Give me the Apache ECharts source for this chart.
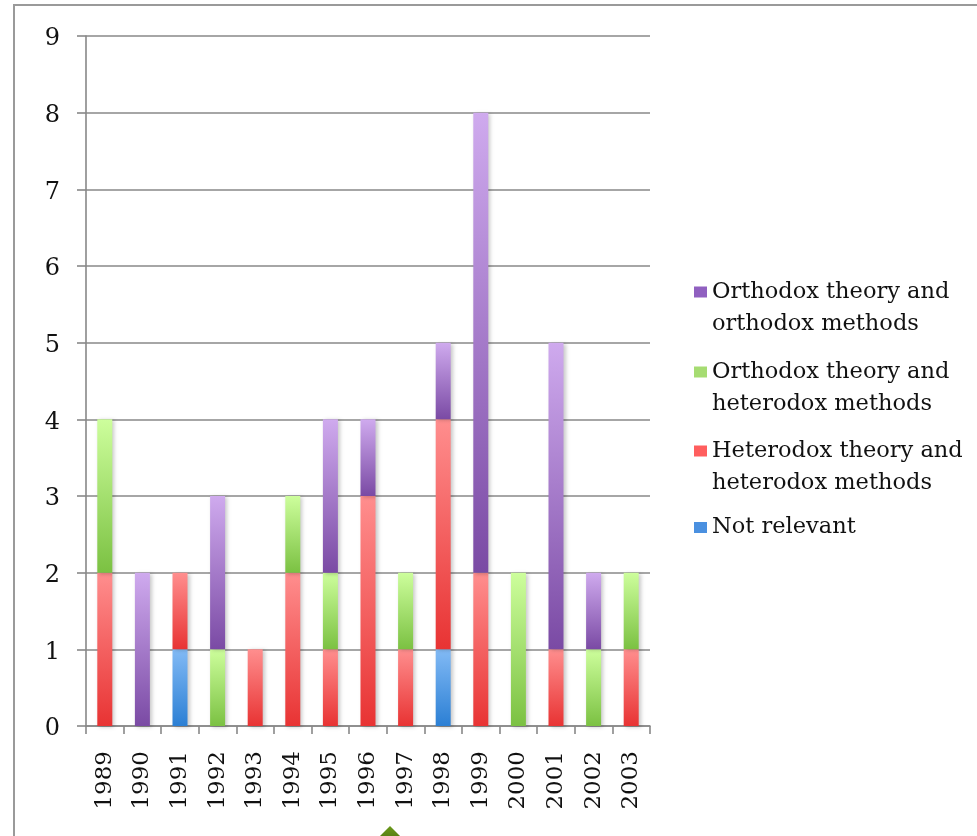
<!DOCTYPE html>
<html>
<head>
<meta charset="utf-8">
<script src="https://cdn.jsdelivr.net/npm/echarts@6/dist/echarts.min.js"></script>
<style>
  html, body { margin: 0; padding: 0; background: #fff; }
  #chart { width: 977px; height: 836px; }
</style>
</head>
<body>
<div id="chart"></div>
<script>
// ---- data ----
const years = ['1989','1990','1991','1992','1993','1994','1995','1996','1997','1998','1999','2000','2001','2002','2003'];
const notRelevant = [0,0,1,0,0,0,0,0,0,1,0,0,0,0,0];
const heterodoxHeterodox = [2,0,1,0,1,2,1,3,1,3,2,0,1,0,1];
const orthodoxHeterodox = [2,0,0,1,0,1,1,0,1,0,0,2,0,1,1];
const orthodoxOrthodox = [0,2,0,2,0,0,2,1,0,1,6,0,4,1,0];
const yTicks = [0,1,2,3,4,5,6,7,8,9];

const seriesNames = [
  'Not relevant',
  'Heterodox theory and\nheterodox methods',
  'Orthodox theory and\nheterodox methods',
  'Orthodox theory and\northodox methods'
];

const FONT = 'DejaVu Serif';

function grad(top, bottom) {
  return new echarts.graphic.LinearGradient(0, 0, 0, 1, [
    { offset: 0, color: top },
    { offset: 1, color: bottom }
  ]);
}

const styles = [
  { fill: grad('#82baf5', '#2b7fd4'), icon: '#4a90e0' },
  { fill: grad('#ff8e8e', '#e83333'), icon: '#ff5e5e' },
  { fill: grad('#cdfe9c', '#7bc142'), icon: '#a6dc72' },
  { fill: grad('#cfaaee', '#7a4aa4'), icon: '#9060c0' }
];

const values = [notRelevant, heterodoxHeterodox, orthodoxHeterodox, orthodoxOrthodox];

const series = values.map((arr, i) => ({
  name: seriesNames[i],
  type: 'bar',
  stack: 'total',
  barWidth: 15,
  data: arr,
  color: styles[i].icon,
  itemStyle: {
    color: styles[i].fill,
    shadowColor: 'rgba(0,0,0,0.22)',
    shadowBlur: 4,
    shadowOffsetX: 2,
    shadowOffsetY: 1
  },
  emphasis: { disabled: true }
}));

// legend: one component per item, listed top to bottom.
// Icon box is 13x43; the square sits at the top for two-line names
// (aligned with the first line) and in the middle for one-line names.
const ICON_TOP = 'path://M0,0h13v11h-13zM0,43';
const ICON_MID = 'path://M0,16h13v11h-13zM0,0M0,43';
const legendTops = [276, 356, 435, 506];
const legendOrder = [3, 2, 1, 0];
const legends = legendOrder.map((si, k) => ({
  orient: 'vertical',
  left: 694,
  top: legendTops[k],
  padding: 0,
  itemWidth: 13,
  itemHeight: 43,
  itemGap: 0,
  selectedMode: false,
  data: [{
    name: seriesNames[si],
    icon: si === 0 ? ICON_MID : ICON_TOP,
    itemStyle: { color: styles[si].icon }
  }],
  textStyle: { fontFamily: FONT, fontSize: 22.5, color: '#111', lineHeight: 32 }
}));

const chart = echarts.init(document.getElementById('chart'));
chart.setOption({
  animation: false,
  backgroundColor: '#fff',
  graphic: [
    {
      type: 'rect',
      shape: { x: 14, y: 5, width: 1100, height: 1000 },
      style: { fill: 'none', stroke: '#9a9a9a', lineWidth: 2 },
      silent: true
    },
    {
      type: 'polygon',
      shape: { points: [[390, 826], [403, 839], [390, 852], [377, 839]] },
      style: { fill: grad('#6a9a1a', '#3e5a0c') },
      silent: true
    }
  ],
  legend: legends,
  grid: { left: 86, right: 327, top: 36, bottom: 110, containLabel: false },
  xAxis: {
    type: 'category',
    data: years,
    axisLine: { lineStyle: { color: '#888', width: 1.6 } },
    axisTick: { show: true, length: 8, lineStyle: { color: '#888', width: 1.6 } },
    axisLabel: {
      rotate: 90,
      margin: 25,
      fontFamily: FONT,
      fontSize: 23,
      color: '#111',
      interval: 0
    },
    splitLine: { show: false }
  },
  yAxis: {
    type: 'value',
    min: 0,
    max: 9,
    interval: 1,
    axisLine: { show: true, lineStyle: { color: '#888', width: 1.6 } },
    axisTick: { show: true, length: 9, lineStyle: { color: '#888', width: 1.6 } },
    axisLabel: {
      margin: 26,
      fontFamily: FONT,
      fontSize: 24,
      color: '#111',
      formatter: v => (yTicks.indexOf(v) >= 0 ? '{a|' + v + '}' : ''),
      rich: {
        a: { fontFamily: FONT, fontSize: 24, color: '#111', padding: [6, 0, 0, 0] }
      }
    },
    splitLine: { show: true, lineStyle: { color: '#888', width: 1.6 } }
  },
  series: series
});
</script>
</body>
</html>
